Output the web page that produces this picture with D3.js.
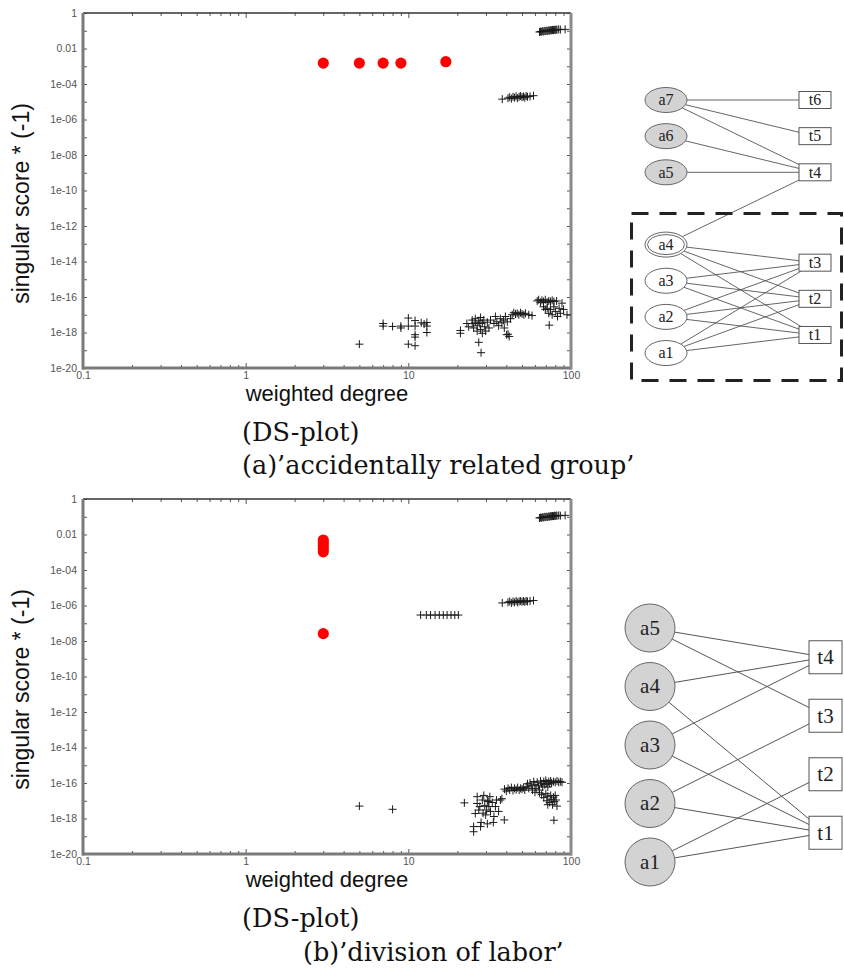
<!DOCTYPE html>
<html>
<head>
<meta charset="utf-8">
<script src="https://cdn.jsdelivr.net/npm/d3@7"></script>
<style>
  body { margin: 0; background: #fff; }
  svg { display: block; }
</style>
</head>
<body>
<svg id="fig" width="844" height="973"></svg>
<script>
// ---------- axis ticks ----------
const xTickValues = [0.1, 1, 10, 100];
const xTickLabels = ["0.1", "1", "10", "100"];
const yTickValues = [1, 1e-2, 1e-4, 1e-6, 1e-8, 1e-10, 1e-12, 1e-14, 1e-16, 1e-18, 1e-20];
const yTickLabels = ["1", "0.01", "1e-04", "1e-06", "1e-08", "1e-10", "1e-12", "1e-14", "1e-16", "1e-18", "1e-20"];

// ---------- (a) accidentally related group ----------
const aRedDegree = [3, 5, 7, 9, 17];
const aRedScore = [1.5e-3, 1.5e-3, 1.5e-3, 1.5e-3, 1.8e-3];

const aCrossTop = [
  [64, 0.085], [65, 0.09], [66, 0.088], [67, 0.095], [68, 0.09], [69, 0.1], [70, 0.095],
  [71, 0.1], [72, 0.098], [73, 0.105], [74, 0.1], [75, 0.11], [76, 0.105], [77, 0.11],
  [78, 0.108], [79, 0.115], [80, 0.11], [81, 0.118], [82, 0.112], [84, 0.12], [86, 0.115], [92, 0.12]
];
const aCrossMid = [
  [37.8, 1.4e-5], [41, 1.6e-5], [42, 1.8e-5], [43, 1.5e-5], [44, 1.9e-5], [45, 1.7e-5],
  [46, 2.0e-5], [47, 1.6e-5], [48, 1.9e-5], [49, 2.1e-5], [50, 1.8e-5], [51, 2.0e-5],
  [52, 1.7e-5], [53, 2.1e-5], [54, 1.9e-5], [56, 2.0e-5], [58.8, 2.2e-5]
];
const aCrossLow = [
  [5.0, 2.2e-19],
  [7.0, 3.2e-18], [7.0, 2.3e-18], [8.0, 2.2e-18], [9.0, 2.3e-18], [9.0, 1.8e-18],
  [10.0, 6.5e-18], [10.0, 2.3e-18], [10.0, 2.2e-19], [11.0, 4.7e-18], [11.0, 2.3e-18],
  [11.0, 7.5e-19], [11.0, 5.5e-19], [11.0, 1.8e-19], [12.0, 3.5e-18], [12.5, 3.0e-18],
  [13.0, 3.7e-18], [13.0, 2.3e-18], [13.0, 1.0e-18],
  [20.9, 1.3e-18], [20.9, 9e-19], [22.9, 3.2e-18], [23.5, 2.1e-18], [24.7, 5e-18],
  [24.7, 3.2e-18], [25.2, 1.8e-18], [25.8, 6e-18], [25.8, 3.8e-18], [26.5, 1.2e-18],
  [26.5, 2.4e-18], [27.1, 4.6e-18], [27.5, 3.2e-18], [27.8, 7e-18], [27.8, 1.5e-18],
  [28.5, 3.5e-18], [28.5, 9e-19], [29.1, 5e-18], [29.5, 2.1e-18], [29.9, 1.2e-18],
  [30.6, 3.8e-18], [27.1, 2.8e-19], [28.0, 7.3e-20], [31.3, 1.8e-18], [32.0, 5e-18],
  [33.6, 3.2e-18], [34.3, 8e-18], [35.0, 4e-18], [35.9, 2.4e-18], [36.8, 6e-18],
  [37.6, 3.5e-18], [38.5, 5e-18], [38.9, 1.8e-18], [39.5, 8e-18], [40.6, 4e-18],
  [41.0, 8e-19], [41.7, 6e-19], [40.2, 7.5e-19], [42.5, 6e-18],
  [43.5, 1.0e-17], [44.5, 1.3e-17], [45.6, 1.1e-17], [46.7, 1.2e-17], [47.8, 1.0e-17],
  [48.9, 1.3e-17], [50.0, 1.1e-17], [51.3, 1.0e-17], [52.5, 1.2e-17], [55.0, 1.0e-17],
  [57.6, 9e-18],
  [62, 6e-17], [63.3, 7e-17], [64.9, 5e-17], [66.3, 6.5e-17], [67.8, 5.5e-17], [69.5, 7e-17],
  [71.4, 5e-17], [73, 6e-17], [74.8, 5.5e-17], [76.6, 6.5e-17], [78.5, 5.5e-17], [81.6, 6e-17],
  [88, 4.5e-17],
  [67.8, 2.8e-17], [69.5, 2e-17], [71.4, 2.3e-17], [73, 1.2e-17], [74.8, 2e-17], [76.6, 1e-17],
  [78.5, 2.8e-17], [80.5, 1.5e-17], [82.6, 8e-18], [84.5, 2.3e-17], [86, 1.2e-17],
  [73.5, 2.6e-18], [90, 2e-17], [94.5, 1e-17]
];

// ---------- (b) division of labor ----------
const bRedDegree = [3, 3, 3, 3, 3, 3];
const bRedScore = [4.9e-3, 3.3e-3, 2.3e-3, 1.6e-3, 1.05e-3, 2.6e-8];

const bCrossTop = [
  [64, 0.085], [65, 0.09], [66, 0.088], [67, 0.095], [68, 0.09], [69, 0.1], [70, 0.095],
  [71, 0.1], [72, 0.098], [73, 0.105], [74, 0.1], [75, 0.11], [76, 0.105], [77, 0.11],
  [78, 0.108], [79, 0.115], [80, 0.11], [81, 0.118], [82, 0.112], [84, 0.12], [86, 0.115], [92, 0.12]
];
const bCrossMid = [
  [37.8, 1.4e-6], [41, 1.5e-6], [42, 1.7e-6], [43, 1.4e-6], [44, 1.7e-6], [45, 1.5e-6],
  [46, 1.8e-6], [47, 1.5e-6], [48, 1.7e-6], [49, 1.8e-6], [50, 1.6e-6], [51, 1.8e-6],
  [52, 1.6e-6], [53, 1.8e-6], [54, 1.7e-6], [56, 1.8e-6], [58.8, 1.9e-6]
];
const bCrossLine = [
  [11.9, 2.9e-7], [12.9, 2.9e-7], [13.7, 2.9e-7], [14.6, 2.9e-7], [15.5, 2.9e-7],
  [16.4, 2.9e-7], [17.3, 2.9e-7], [18.3, 2.9e-7], [19.3, 2.9e-7], [20.3, 2.9e-7]
];
const bCrossLow = [
  [5.0, 5e-18], [8.0, 3.3e-18], [22.1, 7.6e-18],
  [25.2, 3.5e-19], [25.2, 1.8e-19], [25.8, 1.9e-18], [26.5, 1.7e-17], [26.5, 7e-18],
  [27.1, 3e-18], [27.5, 4.7e-18], [27.8, 3.5e-19], [28.0, 6e-19], [28.5, 1.1e-17],
  [28.8, 2e-18], [29.1, 2e-17], [29.5, 5.5e-18], [29.9, 1.6e-18], [30.3, 3e-18],
  [30.6, 1e-17], [31.0, 9e-18], [31.3, 4.7e-18], [31.7, 1.7e-17], [32.0, 2.5e-18],
  [32.8, 8e-18], [33.3, 6e-19], [33.6, 1.3e-18], [34.3, 4.7e-18], [34.8, 1.1e-17],
  [35.9, 2.5e-18], [36.8, 1.1e-17], [37.6, 1.3e-17], [38.9, 8.3e-19], [30.6, 5e-19],
  [39, 4.5e-17], [40, 3.5e-17], [41, 5e-17], [42, 4e-17], [43, 5.5e-17], [44, 3.8e-17],
  [45, 5e-17], [46, 4.2e-17], [47, 5.5e-17], [48, 4e-17], [49, 5e-17], [50, 4.5e-17],
  [51, 5.5e-17], [52, 4e-17],
  [53, 6e-17], [54, 9e-17], [55, 5e-17], [56, 1e-16], [57, 7e-17], [58, 4e-17],
  [59, 1.2e-16], [60, 8e-17], [61, 5e-17], [62, 1.1e-16], [63, 7e-17], [64, 4e-17],
  [65, 1.3e-16], [66, 9e-17], [67, 6e-17], [68, 1.2e-16], [69, 8e-17], [70, 1.4e-16],
  [71, 1e-16], [72, 6e-17], [73, 1.2e-16], [74, 9e-17], [75, 1.3e-16], [76, 1e-16],
  [78, 1.2e-16], [80, 1.1e-16], [82, 1.3e-16], [84, 1.1e-16], [86, 1.2e-16], [88, 1.1e-16],
  [60, 3e-17], [64, 2.8e-17],
  [66, 2.2e-17], [68, 1.5e-17], [70, 2.5e-17], [71, 1e-17], [72, 1.8e-17], [74, 8e-18],
  [75, 2e-17], [76, 1.2e-17], [77, 6e-18], [78, 1.6e-17], [79, 9e-18], [80, 2e-17],
  [81, 1.1e-17], [82, 5e-18], [72, 6e-18], [78.5, 8e-19]
];

// ---------- bipartite graphs ----------
const aActors = ["a7", "a6", "a5", "a4", "a3", "a2", "a1"];
const aShaded = ["a7", "a6", "a5"];
const aDoubled = ["a4"];
const aTasks = ["t6", "t5", "t4", "t3", "t2", "t1"];
const aEdges = [
  ["a7", "t6"], ["a7", "t5"], ["a7", "t4"], ["a6", "t4"], ["a5", "t4"], ["a4", "t4"],
  ["a4", "t3"], ["a4", "t2"], ["a4", "t1"], ["a3", "t3"], ["a3", "t2"], ["a3", "t1"],
  ["a2", "t3"], ["a2", "t2"], ["a2", "t1"], ["a1", "t3"], ["a1", "t2"], ["a1", "t1"]
];

const bActors = ["a5", "a4", "a3", "a2", "a1"];
const bTasks = ["t4", "t3", "t2", "t1"];
const bEdges = [
  ["a5", "t4"], ["a5", "t3"], ["a4", "t4"], ["a4", "t1"], ["a3", "t4"], ["a3", "t1"],
  ["a2", "t3"], ["a2", "t1"], ["a1", "t2"], ["a1", "t1"]
];

const captionLines = [
  ["(DS-plot)", "(a)\u2019accidentally related group\u2019"],
  ["(DS-plot)", "(b)\u2019division of labor\u2019"]
];

// ======================================================================
const svg = d3.select("#fig");
const SANS = "'Liberation Sans', Arial, Helvetica, sans-serif";
const SERIF = "'DejaVu Serif', 'Liberation Serif', serif";
const GSERIF = "'Liberation Serif', 'Times New Roman', serif";

function drawPlot(top, bottom, redX, redY, crossSets) {
  const x = d3.scaleLog().domain([0.1, 100]).range([83, 571]);
  const y = d3.scaleLog().domain([1e-20, 1]).range([bottom, top]);
  const g = svg.append("g");

  const xMinor = x.ticks().filter(v => !xTickValues.some(t => Math.abs(Math.log10(v) - Math.log10(t)) < 1e-6));
  const yAll = d3.range(0, 21).map(k => Math.pow(10, -k));

  // inward ticks on all four sides
  const tickStyle = sel => sel.selectAll("line").attr("stroke", "#555").attr("stroke-width", 1);
  const noDomain = sel => sel.select(".domain").remove();

  g.append("g").attr("transform", `translate(0,${bottom})`)
    .call(d3.axisBottom(x).tickValues(xMinor).tickSize(-3).tickFormat(""))
    .call(noDomain).call(tickStyle);
  g.append("g").attr("transform", `translate(0,${top})`)
    .call(d3.axisTop(x).tickValues(xMinor).tickSize(-3).tickFormat(""))
    .call(noDomain).call(tickStyle);
  g.append("g").attr("transform", `translate(0,${top})`)
    .call(d3.axisTop(x).tickValues(xTickValues).tickSize(-5).tickFormat(""))
    .call(noDomain).call(tickStyle);

  const xAxis = g.append("g").attr("transform", `translate(0,${bottom})`)
    .call(d3.axisBottom(x).tickValues(xTickValues).tickSize(-5).tickPadding(3.5)
      .tickFormat((d, i) => xTickLabels[i]))
    .call(noDomain).call(tickStyle);
  xAxis.selectAll("text").attr("font-family", SANS).attr("font-size", 10.5).attr("fill", "#555");

  g.append("g").attr("transform", `translate(571,0)`)
    .call(d3.axisRight(y).tickValues(yAll).tickSize(-4).tickFormat(""))
    .call(noDomain).call(tickStyle);
  g.append("g").attr("transform", `translate(83,0)`)
    .call(d3.axisLeft(y).tickValues(yAll).tickSize(-4).tickFormat(""))
    .call(noDomain).call(tickStyle);
  const yAxis = g.append("g").attr("transform", `translate(83,0)`)
    .call(d3.axisLeft(y).tickValues(yTickValues).tickSize(0).tickPadding(6)
      .tickFormat((d, i) => yTickLabels[i]))
    .call(noDomain);
  yAxis.selectAll("text").attr("font-family", SANS).attr("font-size", 10.5).attr("fill", "#555");

  // frame
  g.append("line").attr("x1", 83).attr("x2", 571).attr("y1", top).attr("y2", top)
    .attr("stroke", "#333").attr("stroke-width", 1.6);
  g.append("line").attr("x1", 83).attr("x2", 83).attr("y1", top).attr("y2", bottom + 1.5)
    .attr("stroke", "#7a7a7a").attr("stroke-width", 3);
  g.append("line").attr("x1", 82).attr("x2", 572).attr("y1", bottom).attr("y2", bottom)
    .attr("stroke", "#7a7a7a").attr("stroke-width", 3);
  g.append("line").attr("x1", 571).attr("x2", 571).attr("y1", top).attr("y2", bottom + 1.5)
    .attr("stroke", "#8a8a8a").attr("stroke-width", 3);

  // points
  const pts = g.append("g");
  crossSets.forEach(set => {
    pts.selectAll(null).data(set).join("path")
      .attr("d", "M-4,0H4M0,-4V4")
      .attr("transform", d => `translate(${x(d[0])},${y(d[1])})`)
      .attr("stroke", "#1a1a1a").attr("stroke-width", 1).attr("fill", "none");
  });
  pts.selectAll(null).data(d3.zip(redX, redY)).join("circle")
    .attr("cx", d => x(d[0])).attr("cy", d => y(d[1])).attr("r", 5.6)
    .attr("fill", "#ff0000");

  // axis titles
  g.append("text")
    .attr("transform", `translate(29,${(top + bottom) / 2 + 13}) rotate(-90)`)
    .attr("text-anchor", "middle")
    .attr("font-family", SANS).attr("font-size", 23).attr("fill", "#111")
    .text("singular score * (-1)");
  g.append("text")
    .attr("x", 327).attr("y", bottom + 33)
    .attr("text-anchor", "middle")
    .attr("font-family", SANS).attr("font-size", 22).attr("fill", "#111")
    .text("weighted degree");
}

drawPlot(13, 368, aRedDegree, aRedScore, [aCrossTop, aCrossMid, aCrossLow]);
drawPlot(499, 854, bRedDegree, bRedScore, [bCrossTop, bCrossMid, bCrossLine, bCrossLow]);

// captions
function caption(lines, y1, x2, y2) {
  svg.append("text").attr("x", 242).attr("y", y1)
    .attr("font-family", SERIF).attr("font-size", 25.5).attr("fill", "#111").text(lines[0]);
  svg.append("text").attr("x", x2).attr("y", y2)
    .attr("font-family", SERIF).attr("font-size", 25.5).attr("fill", "#111").text(lines[1]);
}
caption(captionLines[0], 441, 242, 474);
caption(captionLines[1], 927, 303, 961);

// ---------- graph drawing ----------
function ellipseEdge(cx, cy, rx, ry, tx, ty) {
  const dx = tx - cx, dy = ty - cy;
  const t = 1 / Math.sqrt((dx / rx) ** 2 + (dy / ry) ** 2);
  return [cx + dx * t, cy + dy * t];
}
function rectEdge(rx0, ry0, w, h, sx, sy) {
  const cx = rx0 + w / 2, cy = ry0 + h / 2;
  const dx = sx - cx, dy = sy - cy;
  const t = Math.min(Math.abs((w / 2) / dx), Math.abs((h / 2) / (dy || 1e-9)));
  return [cx + dx * t, cy + dy * t];
}

function drawGraph(opts) {
  const g = svg.append("g");
  const ay = name => opts.y0 + opts.actorSlot[name] * opts.step;
  const ty = name => opts.y0 + opts.taskSlot[name] * opts.step;
  const tx0 = opts.taskX, tw = opts.taskW, th = opts.taskH;

  g.selectAll(null).data(opts.edges).join("line")
    .each(function (e) {
      const cy = ay(e[0]), tcy = ty(e[1]);
      const p1 = ellipseEdge(opts.actorX, cy, opts.rx, opts.ry, tx0 + tw / 2, tcy);
      const p2 = rectEdge(tx0, tcy - th / 2, tw, th, opts.actorX, cy);
      d3.select(this).attr("x1", p1[0]).attr("y1", p1[1]).attr("x2", p2[0]).attr("y2", p2[1]);
    })
    .attr("stroke", "#555").attr("stroke-width", opts.edgeW);

  const actors = g.selectAll(null).data(opts.actors).join("g")
    .attr("transform", d => `translate(${opts.actorX},${ay(d)})`);
  actors.append("ellipse").attr("rx", opts.rx).attr("ry", opts.ry)
    .attr("fill", d => opts.shaded.includes(d) ? "#d3d3d3" : "#fff")
    .attr("stroke", "#666").attr("stroke-width", 1);
  actors.filter(d => opts.doubled.includes(d)).append("ellipse")
    .attr("rx", opts.rx - 2.5).attr("ry", opts.ry - 2.5)
    .attr("fill", "none").attr("stroke", "#666").attr("stroke-width", 1);
  actors.append("text").attr("text-anchor", "middle").attr("dy", "0.33em")
    .attr("font-family", GSERIF).attr("font-size", opts.font).attr("fill", "#222")
    .text(d => d);

  const tasks = g.selectAll(null).data(opts.tasks).join("g")
    .attr("transform", d => `translate(${tx0},${ty(d) - th / 2})`);
  tasks.append("rect").attr("width", tw).attr("height", th)
    .attr("fill", "#fff").attr("stroke", "#555").attr("stroke-width", 1);
  tasks.append("text").attr("x", tw / 2).attr("y", th / 2).attr("dy", "0.33em")
    .attr("text-anchor", "middle")
    .attr("font-family", GSERIF).attr("font-size", opts.font).attr("fill", "#222")
    .text(d => d);
  return g;
}

drawGraph({
  actors: aActors, tasks: aTasks, edges: aEdges, shaded: aShaded, doubled: aDoubled,
  actorSlot: { a7: 0, a6: 1, a5: 2, a4: 4, a3: 5, a2: 6, a1: 7 },
  taskSlot: { t6: 0, t5: 1, t4: 2, t3: 4.5, t2: 5.5, t1: 6.5 },
  y0: 100, step: 36.15, actorX: 666, rx: 21, ry: 12.5,
  taskX: 799, taskW: 32, taskH: 17, font: 16, edgeW: 0.9
});
// dashed group outline
svg.append("rect").attr("x", 631.5).attr("y", 213.5).attr("width", 210).attr("height", 167)
  .attr("fill", "none").attr("stroke", "#222").attr("stroke-width", 3)
  .attr("stroke-dasharray", "17,11");

drawGraph({
  actors: bActors, tasks: bTasks, edges: bEdges, shaded: bActors, doubled: [],
  actorSlot: { a5: 0, a4: 1, a3: 2, a2: 3, a1: 4 },
  taskSlot: { t4: 0.5, t3: 1.5, t2: 2.5, t1: 3.5 },
  y0: 628, step: 58.5, actorX: 650, rx: 25, ry: 24,
  taskX: 809, taskW: 33, taskH: 33, font: 21, edgeW: 1
});
</script>
</body>
</html>
